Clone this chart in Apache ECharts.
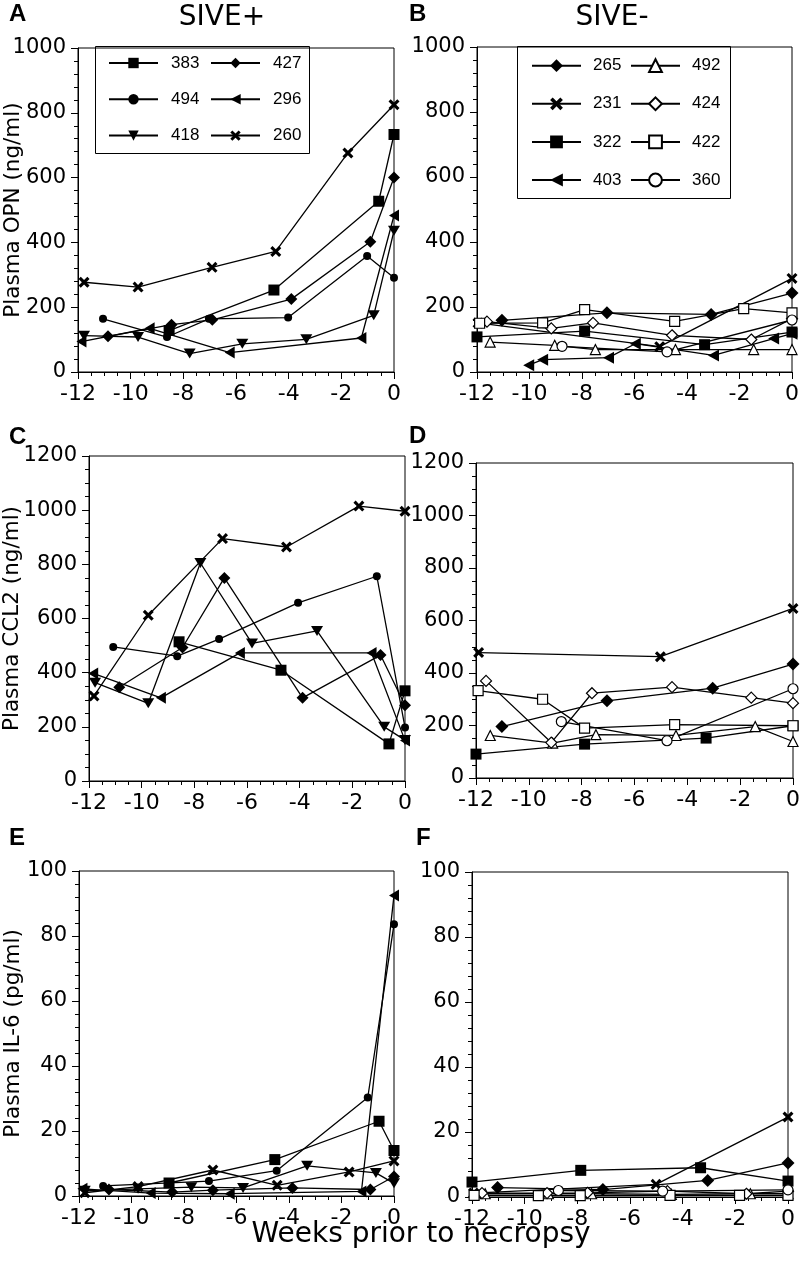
<!DOCTYPE html>
<html>
<head>
<meta charset="utf-8">
<script src="https://cdn.jsdelivr.net/npm/echarts@6/dist/echarts.min.js"></script>
<style>html,body{margin:0;padding:0;background:#fff}#c{width:800px;height:1267px}</style>
</head>
<body>
<div id="c"></div>
<script>
// ---------- DATA: [weeks prior to necropsy, value] ----------
const sivePosAnimals = ['383','427','494','296','418','260'];
const siveNegAnimals = ['265','492','231','424','322','422','403','360'];

// Panel A: Plasma OPN (ng/ml), SIVE+
const a383 = [[-8.54,128],[-4.56,253],[-0.58,527],[0,733]];
const a427 = [[-10.86,110],[-8.45,146],[-6.9,161],[-3.9,225],[-0.9,402],[0,600]];
const a494 = [[-11.05,164],[-8.62,108],[-7.03,164],[-4.02,168],[-1.02,358],[0,291]];
const a296 = [[-11.87,94],[-9.28,135],[-6.24,60],[-1.24,105],[0,483]];
const a418 = [[-11.77,112],[-9.72,108],[-7.76,57],[-5.76,87],[-3.33,101],[-0.77,175],[0,436]];
const a260 = [[-11.77,277],[-9.72,262],[-6.91,323],[-4.49,372],[-1.75,676],[0,825]];

// Panel B: Plasma OPN (ng/ml), SIVE-
const b265 = [[-11.05,159],[-7.05,182],[-3.08,177],[0,243]];
const b492 = [[-11.5,92],[-9.04,82],[-7.49,69],[-4.44,69],[-1.46,69],[0,69]];
const b231 = [[-11.96,151],[-5.04,78],[0,288]];
const b424 = [[-11.62,155],[-9.17,134],[-7.58,151],[-4.57,113],[-1.55,100],[0,164]];
const b322 = [[-12,108],[-7.9,126],[-3.33,84],[0,123]];
const b422 = [[-11.9,150],[-9.5,151],[-7.9,192],[-4.47,156],[-1.84,195],[0,182]];
const b403 = [[-10.03,21],[-9.5,38],[-6.99,44],[-5.97,87],[-2.99,51],[-0.7,103],[0,118]];
const b360 = [[-8.76,79],[-4.76,62],[0,160]];

// Panel C: Plasma CCL2 (ng/ml), SIVE+
const c383 = [[-8.58,514],[-4.71,409],[-0.61,137],[0,333]];
const c427 = [[-10.85,346],[-8.45,493],[-6.86,750],[-3.89,307],[-0.93,465],[0,280]];
const c494 = [[-11.08,495],[-8.65,461],[-7.06,524],[-4.06,658],[-1.07,756],[0,198]];
const c296 = [[-11.84,397],[-9.27,307],[-6.27,473],[-1.27,473],[0,150]];
const c418 = [[-11.77,363],[-9.75,287],[-7.77,805],[-5.81,508],[-3.34,554],[-0.79,200],[0,151]];
const c260 = [[-11.81,314],[-9.75,612],[-6.93,895],[-4.5,864],[-1.75,1015],[0,996]];

// Panel D: Plasma CCL2 (ng/ml), SIVE-
const d265 = [[-11.02,196],[-7.04,294],[-3.04,342],[0,434]];
const d492 = [[-11.46,162],[-9.1,133],[-7.46,165],[-4.43,162],[-1.43,196],[0,139]];
const d231 = [[-11.9,478],[-5.02,462],[0,646]];
const d424 = [[-11.62,370],[-9.15,135],[-7.61,323],[-4.58,346],[-1.58,306],[0,285]];
const d322 = [[-12,91],[-7.89,129],[-3.29,152],[0,199]];
const d422 = [[-11.92,333],[-9.48,300],[-7.89,190],[-4.48,203],[0,199]];
const d360 = [[-8.77,215],[-4.77,142],[0,340]];

// Panel E: Plasma IL-6 (pg/ml), SIVE+
const e383 = [[-8.57,4.0],[-4.54,11.2],[-0.57,23],[0,14]];
const e427 = [[-10.86,2.0],[-8.45,1.2],[-6.9,1.8],[-3.87,2.5],[-0.9,2.0],[0,6]];
const e494 = [[-11.08,3.1],[-7.05,4.6],[-4.47,7.8],[-1.0,30.3],[0,83.6]];
const e296 = [[-11.87,2.2],[-9.27,0.9],[-6.26,0.7],[-1.24,1.4],[0,92.5]];
const e418 = [[-11.78,1.6],[-9.75,2.2],[-7.72,2.7],[-5.75,2.5],[-3.31,9.3],[-0.69,7.1],[0,3.9]];
const e260 = [[-11.78,1.0],[-9.75,2.9],[-6.9,8.0],[-4.45,3.3],[-1.71,7.4],[0,10.8]];

// Panel F: Plasma IL-6 (pg/ml), SIVE-
const f265 = [[-11.03,2.9],[-7.03,2.3],[-3.05,5.1],[0,10.5]];
const f492 = [[-11.5,1.0],[-9.1,1.0],[-7.46,1.0],[-4.43,0.8],[-1.43,1.0],[0,1.0]];
const f231 = [[-11.94,1.2],[-5.01,3.9],[0,24.6]];
const f424 = [[-11.62,1.2],[-9.15,1.2],[-7.61,1.3],[-4.58,1.8],[-1.58,1.0],[0,1.8]];
const f322 = [[-12,4.6],[-7.87,8.2],[-3.32,9.0],[0,4.9]];
const f422 = [[-11.92,0.5],[-9.48,0.4],[-7.89,0.4],[-4.48,0.5],[-1.84,0.5],[0,0.5]];
const f360 = [[-8.72,2.0],[-4.76,1.8],[0,2.2]];

// Axis ranges / ticks
const xMin = -12, xMax = 0, xStep = 2;
const opnMax = 1000, opnStep = 200;
const ccl2Max = 1200, ccl2Step = 200;
const il6Max = 100, il6Step = 20;

// ---------- STYLE ----------
const FONT = '"DejaVu Sans", "Liberation Sans", Arial, sans-serif';
const LFONT = '"Liberation Sans", Arial, sans-serif';
const X_PATH = 'path://M0,2 L2,0 L5,3 L8,0 L10,2 L7,5 L10,8 L8,10 L5,7 L2,10 L0,8 L3,5 Z';
const DOWN_TRI = 'path://M0,0 L10,0 L5,9 Z';
const LEFT_TRI = 'path://M0,5 L9,0 L9,10 Z';
const UP_TRI = 'path://M5,0 L10,9 L0,9 Z';

const posStyle = {
  '383': ['rect', 11, true], '427': ['diamond', 12, true], '494': ['circle', 8, true],
  '296': [LEFT_TRI, [10, 12], true], '418': [DOWN_TRI, [12, 10], true], '260': [X_PATH, 11, true]
};
const negStyle = {
  '265': ['diamond', 13, true], '492': [UP_TRI, 10, false], '231': [X_PATH, 11, true],
  '424': ['diamond', 11, false], '322': ['rect', 11, true], '422': ['rect', 10, false],
  '403': [LEFT_TRI, [11, 12], true], '360': ['circle', 10, false]
};

const grids = [
  {left: 78, top: 48, width: 316, height: 324},
  {left: 477, top: 47, width: 315, height: 325},
  {left: 89, top: 456, width: 316, height: 325},
  {left: 476, top: 463, width: 317, height: 315},
  {left: 79, top: 871, width: 315, height: 325},
  {left: 472, top: 872, width: 316, height: 325}
];

function xAx(gi) {
  return {
    gridIndex: gi, type: 'value', position: 'bottom', min: xMin, max: xMax, interval: xStep,
    axisLine: {show: true, onZero: false, lineStyle: {color: '#000', width: 1}},
    axisTick: {show: true, inside: false, length: 7, lineStyle: {color: '#000', width: 1}},
    minorTick: {show: true, splitNumber: 4, length: 4, lineStyle: {color: '#000', width: 1}},
    splitLine: {show: false}, minorSplitLine: {show: false},
    axisLabel: {inside: false, color: '#000', fontSize: 22, fontFamily: FONT, margin: 11,
      formatter: v => String(v)}
  };
}
function yAx(gi, max, step, minorSplit, name, gap) {
  return {
    gridIndex: gi, type: 'value', position: 'left', min: 0, max: max, interval: step,
    name: name || '', nameLocation: 'middle', nameGap: gap || 0, nameRotate: 90, nameMoveOverlap: false,
    nameTextStyle: {color: '#000', fontSize: 21.5, fontFamily: FONT},
    axisLine: {show: true, onZero: false, lineStyle: {color: '#000', width: 1}},
    axisTick: {show: true, inside: false, length: 7, lineStyle: {color: '#000', width: 1}},
    minorTick: {show: true, splitNumber: minorSplit, length: 4, lineStyle: {color: '#000', width: 1}},
    splitLine: {show: false}, minorSplitLine: {show: false},
    axisLabel: {inside: false, color: '#000', fontSize: 21, fontFamily: FONT, margin: 12,
      formatter: v => String(v)}
  };
}

function mk(name, data, gi, st) {
  return {
    type: 'line', name: name, data: data, xAxisIndex: gi, yAxisIndex: gi,
    symbol: st[0], symbolSize: st[1], showSymbol: true, showAllSymbol: true, clip: false,
    lineStyle: {color: '#000', width: 1.3},
    itemStyle: {color: st[2] ? '#000' : '#fff', borderColor: '#000', borderWidth: st[2] ? 0 : 1.2},
    emphasis: {disabled: true}, silent: true, animation: false
  };
}

const series = [
  mk('383', a383, 0, posStyle['383']), mk('427', a427, 0, posStyle['427']),
  mk('494', a494, 0, posStyle['494']), mk('296', a296, 0, posStyle['296']),
  mk('418', a418, 0, posStyle['418']), mk('260', a260, 0, posStyle['260']),

  mk('265', b265, 1, negStyle['265']), mk('492', b492, 1, negStyle['492']),
  mk('231', b231, 1, negStyle['231']), mk('424', b424, 1, negStyle['424']),
  mk('322', b322, 1, negStyle['322']), mk('422', b422, 1, negStyle['422']),
  mk('403', b403, 1, negStyle['403']), mk('360', b360, 1, negStyle['360']),

  mk('383', c383, 2, posStyle['383']), mk('427', c427, 2, posStyle['427']),
  mk('494', c494, 2, posStyle['494']), mk('296', c296, 2, posStyle['296']),
  mk('418', c418, 2, posStyle['418']), mk('260', c260, 2, posStyle['260']),

  mk('265', d265, 3, negStyle['265']), mk('492', d492, 3, negStyle['492']),
  mk('231', d231, 3, negStyle['231']), mk('424', d424, 3, negStyle['424']),
  mk('322', d322, 3, negStyle['322']), mk('422', d422, 3, negStyle['422']),
  mk('360', d360, 3, negStyle['360']),

  mk('383', e383, 4, posStyle['383']), mk('427', e427, 4, posStyle['427']),
  mk('494', e494, 4, posStyle['494']), mk('296', e296, 4, posStyle['296']),
  mk('418', e418, 4, posStyle['418']), mk('260', e260, 4, posStyle['260']),

  mk('265', f265, 5, negStyle['265']), mk('492', f492, 5, negStyle['492']),
  mk('231', f231, 5, negStyle['231']), mk('424', f424, 5, negStyle['424']),
  mk('322', f322, 5, negStyle['322']), mk('422', f422, 5, negStyle['422']),
  mk('360', f360, 5, negStyle['360'])
];

function lg(names, left, top, ih, gap, pad) {
  return {
    data: names, orient: 'vertical', left: left, top: top, padding: 0,
    itemWidth: 49, itemHeight: ih, itemGap: gap, selectedMode: false,
    textStyle: {color: '#000', fontSize: 17, fontFamily: LFONT, lineHeight: 20, padding: [0, 0, 0, pad]}
  };
}

function txt(t, x, y, font, align) {
  return {type: 'text', x: x, y: y, silent: true,
    style: {text: t, font: font, fill: '#000', textAlign: align || 'left', textVerticalAlign: 'middle'}};
}

const option = {
  backgroundColor: '#fff',
  animation: false,
  grid: grids.map(g => Object.assign({show: true, borderColor: '#000', borderWidth: 1, backgroundColor: 'transparent', containLabel: false, outerBoundsMode: 'none'}, g)),
  xAxis: [0,1,2,3,4,5].map(xAx),
  yAxis: [
    yAx(0, opnMax, opnStep, 5, 'Plasma OPN (ng/ml)', 54),
    yAx(1, opnMax, opnStep, 5),
    yAx(2, ccl2Max, ccl2Step, 4, 'Plasma CCL2 (ng/ml)', 66),
    yAx(3, ccl2Max, ccl2Step, 4),
    yAx(4, il6Max, il6Step, 5, 'Plasma IL-6 (pg/ml)', 55),
    yAx(5, il6Max, il6Step, 5)
  ],
  legend: [
    lg([sivePosAnimals[0], sivePosAnimals[2], sivePosAnimals[4]], 108, 53, 13, 16.3, 8),
    lg([sivePosAnimals[1], sivePosAnimals[3], sivePosAnimals[5]], 210, 53, 13, 16.3, 8),
    lg([siveNegAnimals[0], siveNegAnimals[2], siveNegAnimals[4], siveNegAnimals[6]], 531, 55.7, 16, 18.1, 7),
    lg([siveNegAnimals[1], siveNegAnimals[3], siveNegAnimals[5], siveNegAnimals[7]], 630, 55.7, 16, 18.1, 7)
  ],
  graphic: [
    {type: 'rect', shape: {x: 95.5, y: 46.5, width: 214, height: 107}, style: {fill: 'transparent', stroke: '#000', lineWidth: 1}, silent: true},
    {type: 'rect', shape: {x: 517.5, y: 46.5, width: 213, height: 152}, style: {fill: 'transparent', stroke: '#000', lineWidth: 1}, silent: true},
    txt('A', 9, 14.5, 'bold 24px "Liberation Sans", Arial, sans-serif'),
    txt('B', 409, 14.5, 'bold 24px "Liberation Sans", Arial, sans-serif'),
    txt('C', 9, 437, 'bold 24px "Liberation Sans", Arial, sans-serif'),
    txt('D', 409, 436, 'bold 24px "Liberation Sans", Arial, sans-serif'),
    txt('E', 9, 838, 'bold 24px "Liberation Sans", Arial, sans-serif'),
    txt('F', 416, 838, 'bold 24px "Liberation Sans", Arial, sans-serif'),
    txt('SIVE+', 222, 18, '28px "DejaVu Sans", sans-serif', 'center'),
    txt('SIVE-', 612, 18, '28px "DejaVu Sans", sans-serif', 'center'),
    txt('Weeks prior to necropsy', 421, 1235, '28px "DejaVu Sans", sans-serif', 'center')
  ],
  series: series
};

const chart = echarts.init(document.getElementById('c'), null, {renderer: 'canvas'});
chart.setOption(option);
</script>
</body>
</html>
